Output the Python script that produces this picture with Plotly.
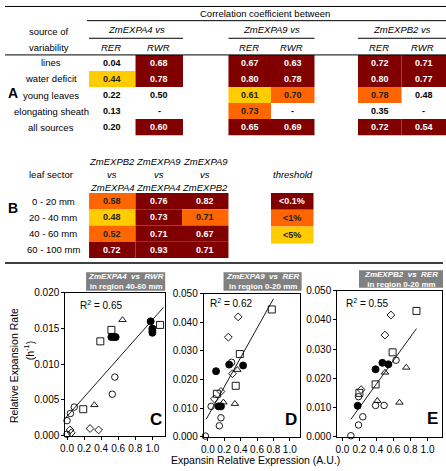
import plotly.graph_objects as go

W, H = 446, 471
FONT = "Liberation Sans, Arial, sans-serif"

# ---------------- DATA ----------------
# Table A
a_rows = ["lines", "water deficit", "young leaves", "elongating sheath", "all sources"]
a_genes = ["ZmEXPA4 vs", "ZmEXPA9 vs", "ZmEXPB2 vs"]
a_sub = ["RER", "RWR"]
a_values = [
    ["0.04", "0.68", "0.67", "0.63", "0.72", "0.71"],
    ["0.44", "0.78", "0.80", "0.78", "0.80", "0.77"],
    ["0.22", "0.50", "0.61", "0.70", "0.78", "0.48"],
    ["0.13", "-", "0.73", "-", "0.35", "-"],
    ["0.20", "0.60", "0.65", "0.69", "0.72", "0.54"],
]
# significance level: 0 none, 1 <5%, 2 <1%, 3 <0.1%
a_level = [
    [0, 3, 3, 3, 3, 3],
    [1, 3, 3, 3, 3, 3],
    [0, 0, 1, 2, 2, 0],
    [0, 0, 2, 0, 0, 0],
    [0, 3, 3, 3, 3, 3],
]
# Table B
b_rows = ["0 - 20 mm", "20 - 40 mm", "40 - 60 mm", "60 - 100 mm"]
b_cols = [("ZmEXPB2", "ZmEXPA4"), ("ZmEXPA9", "ZmEXPA4"), ("ZmEXPA9", "ZmEXPB2")]
b_values = [
    ["0.58", "0.76", "0.82"],
    ["0.48", "0.73", "0.71"],
    ["0.52", "0.71", "0.67"],
    ["0.72", "0.93", "0.71"],
]
b_level = [
    [2, 3, 3],
    [1, 3, 2],
    [2, 3, 3],
    [3, 3, 3],
]
thresholds = ["<0.1%", "<1%", "<5%"]
threshold_level = [3, 2, 1]

# Scatter panel C: ZmEXPA4 vs RWR, region 40-60 mm
C_circle_x = [0.0, 0.04, 0.085, 0.0, 0.53, 0.56]
C_circle_y = [0.0021, 0.0031, 0.0040, 0.0002, 0.0058, 0.0082]
C_diamond_x = [0.035, 0.05, 0.27, 0.37]
C_diamond_y = [0.0008, 0.0004, 0.0010, 0.0008]
C_square_x = [0.19, 0.39, 0.52, 1.09]
C_square_y = [0.0037, 0.0132, 0.0148, 0.0155]
C_triangle_x = [0.32, 0.65]
C_triangle_y = [0.0043, 0.0162]
C_filled_x = [0.52, 0.545, 0.57, 0.98, 1.0, 1.0, 1.0]
C_filled_y = [0.0138, 0.0138, 0.0138, 0.0160, 0.0150, 0.0147, 0.0144]
C_fit = dict(slope=0.0135, intercept=0.0027, x0=-0.04, x1=1.13, r2="0.65")

# Scatter panel D: ZmEXPA9 vs RER, region 0-20 mm
D_circle_x = [0.29, 0.04, 0.16, 0.14, -0.03]
D_circle_y = [0.0260, 0.0106, 0.0066, 0.0038, 0.0002]
D_diamond_x = [0.37, 0.25, 0.30, 0.16, 0.08]
D_diamond_y = [0.0419, 0.0348, 0.0220, 0.0158, 0.0132]
D_square_x = [0.78, 0.39, 0.34, 0.11]
D_square_y = [0.0445, 0.0289, 0.0178, 0.0150]
D_triangle_x = [0.36, 0.19, 0.33]
D_triangle_y = [0.0234, 0.0120, 0.0115]
D_filled_x = [0.26, 0.43, 0.10, 0.13, 0.16]
D_filled_y = [0.0252, 0.0249, 0.0229, 0.0106, 0.0106]
D_fit = dict(slope=0.0514, intercept=0.0071, x0=-0.02, x1=0.80, r2="0.62")

# Scatter panel E: ZmEXPB2 vs RER, region 0-20 mm
E_circle_x = [0.63, 0.19, 0.39, 0.49, 0.24, 0.19, 0.10]
E_circle_y = [0.0262, 0.0137, 0.0107, 0.0107, 0.0068, 0.0040, 0.0003]
E_diamond_x = [0.57, 0.50, 0.22]
E_diamond_y = [0.0417, 0.0348, 0.0161]
E_square_x = [0.87, 0.59, 0.39, 0.20]
E_square_y = [0.0431, 0.0289, 0.0179, 0.0150]
E_triangle_x = [0.75, 0.50, 0.41, 0.67]
E_triangle_y = [0.0237, 0.0220, 0.0123, 0.0117]
E_filled_x = [0.47, 0.54, 0.39, 0.18]
E_filled_y = [0.0253, 0.0248, 0.0231, 0.0106]
E_fit = dict(slope=0.0404, intercept=0.0019, x0=0.10, x1=0.87, r2="0.55")

C_ticks = [0.000, 0.005, 0.010, 0.015, 0.020]
DE_ticks = [0.000, 0.010, 0.020, 0.030, 0.040, 0.050]
x_ticks = [0.0, 0.2, 0.4, 0.6, 0.8, 1.0]

# ---------------- STYLE / LAYOUT ----------------
LEVEL_COLOR = {1: "#FFCC00", 2: "#FF6600", 3: "#800000"}
LEVEL_TEXT = {0: "black", 1: "#222222", 2: "#222222", 3: "white"}


def fx(x):
    return x / W


def fy(y):
    return 1 - y / H


shapes = []
annotations = []


def hline(x0, x1, y, width=1):
    shapes.append(dict(type="line", xref="paper", yref="paper", x0=fx(x0), x1=fx(x1),
                       y0=fy(y), y1=fy(y), line=dict(color="black", width=width)))


def rect(x0, x1, y0, y1, color):
    shapes.append(dict(type="rect", xref="paper", yref="paper", x0=fx(x0), x1=fx(x1),
                       y0=fy(y0), y1=fy(y1), fillcolor=color, line=dict(width=0), layer="below"))


def text(x, y, s, size=9.5, color="black", bold=False, italic=False, xanchor="center"):
    if bold:
        s = "<b>" + s + "</b>"
    if italic:
        s = "<i>" + s + "</i>"
    annotations.append(dict(x=fx(x), y=fy(y), xref="paper", yref="paper", text=s, showarrow=False,
                            xanchor=xanchor, yanchor="middle",
                            font=dict(family=FONT, size=size, color=color)))


# ---- Table A ----
hline(0, 446, 1.5)
text(263, 9, "Correlation coefficient between", size=9.5)
hline(83, 446, 16)
text(44, 27, "source of", size=9.5)
text(44, 43, "variability", size=9.5)
cell_x = [(85, 132), (132, 180), (226, 269), (269, 313), (357, 401), (401, 446)]
for g, (gx0, gx1) in enumerate([(85, 180), (226, 313), (357, 446)]):
    text((gx0 + gx1) / 2, 25, a_genes[g], size=9.5, italic=True)
    hline(gx0, gx1, 34)
for c, (cx0, cx1) in enumerate(cell_x):
    text((cx0 + cx1) / 2 - 1, 43, a_sub[c % 2], size=9.5, italic=True)
hline(0, 446, 51)
A_top, A_h = 51, 16.4
for r, lab in enumerate(a_rows):
    y0 = A_top + r * A_h
    yc = y0 + A_h / 2
    text(47, yc, lab, size=9.5)
    for c, (cx0, cx1) in enumerate(cell_x):
        lv = a_level[r][c]
        if lv:
            rect(cx0, cx1, y0, y0 + A_h, LEVEL_COLOR[lv])
        text((cx0 + cx1) / 2, yc, a_values[r][c], size=9, bold=True, color=LEVEL_TEXT[lv])
text(8, 90, "A", size=14, bold=True)

# ---- Table B ----
bcell_x = [(85, 132), (132, 179), (179, 226)]
text(47, 173, "leaf sector", size=9.5)
for c, (cx0, cx1) in enumerate(bcell_x):
    xc = (cx0 + cx1) / 2
    text(xc, 160, b_cols[c][0], size=9.5, italic=True)
    text(xc, 173, "vs", size=9.5, italic=True)
    text(xc, 186, b_cols[c][1], size=9.5, italic=True)
text(291, 173, "threshold", size=9.5, italic=True)
B_top, B_h = 192, 16.6
for r, lab in enumerate(b_rows):
    y0 = B_top + r * B_h
    yc = y0 + B_h / 2
    text(49, yc, lab, size=9.5)
    for c, (cx0, cx1) in enumerate(bcell_x):
        lv = b_level[r][c]
        rect(cx0, cx1, y0, y0 + B_h, LEVEL_COLOR[lv])
        text((cx0 + cx1) / 2, yc, b_values[r][c], size=9, bold=True, color=LEVEL_TEXT[lv])
for r, lab in enumerate(thresholds):
    y0 = B_top + r * (B_h + 0.6)
    lv = threshold_level[r]
    rect(269, 312, y0, y0 + B_h + 0.6, LEVEL_COLOR[lv])
    text(290.5, y0 + (B_h + 0.6) / 2, lab, size=9, bold=True, color=LEVEL_TEXT[lv])
text(8, 207, "B", size=14, bold=True)
hline(0, 443, 263.5, width=1.5)

# ---------------- SCATTER PANELS ----------------
fig = go.Figure()

panels = [
    dict(name="C", ax="", dom_x=(61, 162), dom_y=(294, 440), xr=[-0.02, 1.15], yr=[0, 0.020],
         ticks=C_ticks,
         circle=(C_circle_x, C_circle_y), diamond=(C_diamond_x, C_diamond_y),
         square=(C_square_x, C_square_y), triangle=(C_triangle_x, C_triangle_y),
         filled=(C_filled_x, C_filled_y), fit=C_fit,
         title=("ZmEXPA4", "RWR", "40-60 mm"), box=(82, 162, 273, 292), r2pos=(97, 307),
         letter=(153, 424)),
    dict(name="D", ax="2", dom_x=(201, 298), dom_y=(295, 441), xr=[-0.05, 1.12], yr=[0, 0.050],
         ticks=DE_ticks,
         circle=(D_circle_x, D_circle_y), diamond=(D_diamond_x, D_diamond_y),
         square=(D_square_x, D_square_y), triangle=(D_triangle_x, D_triangle_y),
         filled=(D_filled_x, D_filled_y), fit=D_fit,
         title=("ZmEXPA9", "RER", "0-20 mm"), box=(221, 300, 273, 292), r2pos=(229, 304),
         letter=(289, 424)),
    dict(name="E", ax="3", dom_x=(336, 442), dom_y=(292, 441), xr=[-0.06, 1.17], yr=[0, 0.050],
         ticks=DE_ticks,
         circle=(E_circle_x, E_circle_y), diamond=(E_diamond_x, E_diamond_y),
         square=(E_square_x, E_square_y), triangle=(E_triangle_x, E_triangle_y),
         filled=(E_filled_x, E_filled_y), fit=E_fit,
         title=("ZmEXPB2", "RER", "0-20 mm"), box=(358, 443, 271, 289), r2pos=(366, 304),
         letter=(432, 422)),
]

marker_styles = [
    ("circle", "circle-open", 6.5),
    ("diamond", "diamond-open", 6),
    ("square", "square-open", 7),
    ("triangle", "triangle-up-open", 6.5),
    ("filled", "circle", 7),
]

layout_axes = {}
for p in panels:
    xa = "x" + p["ax"]
    ya = "y" + p["ax"]
    for key, sym, size in marker_styles:
        xs, ys = p[key]
        fig.add_trace(go.Scatter(x=xs, y=ys, mode="markers", xaxis=xa, yaxis=ya,
                                 cliponaxis=False, showlegend=False,
                                 marker=dict(symbol=sym, size=size, color="black",
                                             line=dict(color="black", width=0.9))))
    f = p["fit"]
    lx = [f["x0"], f["x1"]]
    ly = [f["intercept"] + f["slope"] * v for v in lx]
    fig.add_trace(go.Scatter(x=lx, y=ly, mode="lines", xaxis=xa, yaxis=ya, showlegend=False,
                             line=dict(color="black", width=0.9)))
    axis_common = dict(showline=True, linecolor="black", linewidth=1, mirror=True, showgrid=False,
                       zeroline=False, ticks="outside", ticklen=3, tickcolor="black",
                       tickangle=0,
                       tickfont=dict(family=FONT, size=10, color="black"))
    layout_axes["xaxis" + p["ax"]] = dict(
        domain=[fx(p["dom_x"][0]), fx(p["dom_x"][1])], range=p["xr"], tickvals=x_ticks,
        tickformat=".1f", anchor=ya, **axis_common)
    layout_axes["yaxis" + p["ax"]] = dict(
        domain=[fy(p["dom_y"][1]), fy(p["dom_y"][0])], range=p["yr"], tickvals=p["ticks"],
        tickformat=".3f", anchor=xa, **axis_common)
    # gray title box
    bx0, bx1, by0, by1 = p["box"]
    shapes.append(dict(type="rect", xref="paper", yref="paper", x0=fx(bx0), x1=fx(bx1),
                       y0=fy(by1), y1=fy(by0), fillcolor="#808080", line=dict(width=0)))
    g, v, reg = p["title"]
    annotations.append(dict(x=fx((bx0 + bx1) / 2), y=fy((by0 + by1) / 2), xref="paper", yref="paper",
                            text="<b><i>%s</i>  <i>vs</i>  <i>%s</i></b><br><b>in region %s</b>" % (g, v, reg),
                            showarrow=False, xanchor="center", yanchor="middle",
                            font=dict(family=FONT, size=8, color="white"),
                            align="center"))
    # R^2
    annotations.append(dict(x=fx(p["r2pos"][0]), y=fy(p["r2pos"][1]), xref="paper", yref="paper",
                            text="R<sup>2</sup> = " + f["r2"], showarrow=False, xanchor="center",
                            yanchor="middle", font=dict(family=FONT, size=10, color="black")))
    # panel letter
    annotations.append(dict(x=fx(p["letter"][0]), y=fy(p["letter"][1]), xref="paper", yref="paper",
                            text="<b>" + p["name"] + "</b>", showarrow=False, xanchor="center",
                            yanchor="middle", font=dict(family=FONT, size=17, color="black")))

# axis titles
annotations.append(dict(x=fx(9), y=fy(368), xref="paper", yref="paper", text="Relative Expansion Rate",
                        showarrow=False, textangle=-90, xanchor="center", yanchor="middle",
                        font=dict(family=FONT, size=10.5, color="black")))
annotations.append(dict(x=fx(24), y=fy(353), xref="paper", yref="paper", text="(h<sup>-1</sup>)",
                        showarrow=False, textangle=-90, xanchor="center", yanchor="middle",
                        font=dict(family=FONT, size=10.5, color="black")))
annotations.append(dict(x=fx(253), y=fy(465), xref="paper", yref="paper",
                        text="Expansin Relative Expression (A.U.)",
                        showarrow=False, xanchor="center", yanchor="middle", borderpad=0,
                        font=dict(family=FONT, size=10.5, color="black")))

fig.update_layout(
    width=W, height=H, margin=dict(l=0, r=0, t=0, b=0),
    paper_bgcolor="white", plot_bgcolor="white",
    shapes=shapes, annotations=annotations, showlegend=False,
    **layout_axes,
)

fig.write_html(
    "out.html",
    config={"displayModeBar": False},
    post_script="document.body.style.margin='0';document.body.style.padding='0';"
                "document.body.style.overflow='hidden';",
)
